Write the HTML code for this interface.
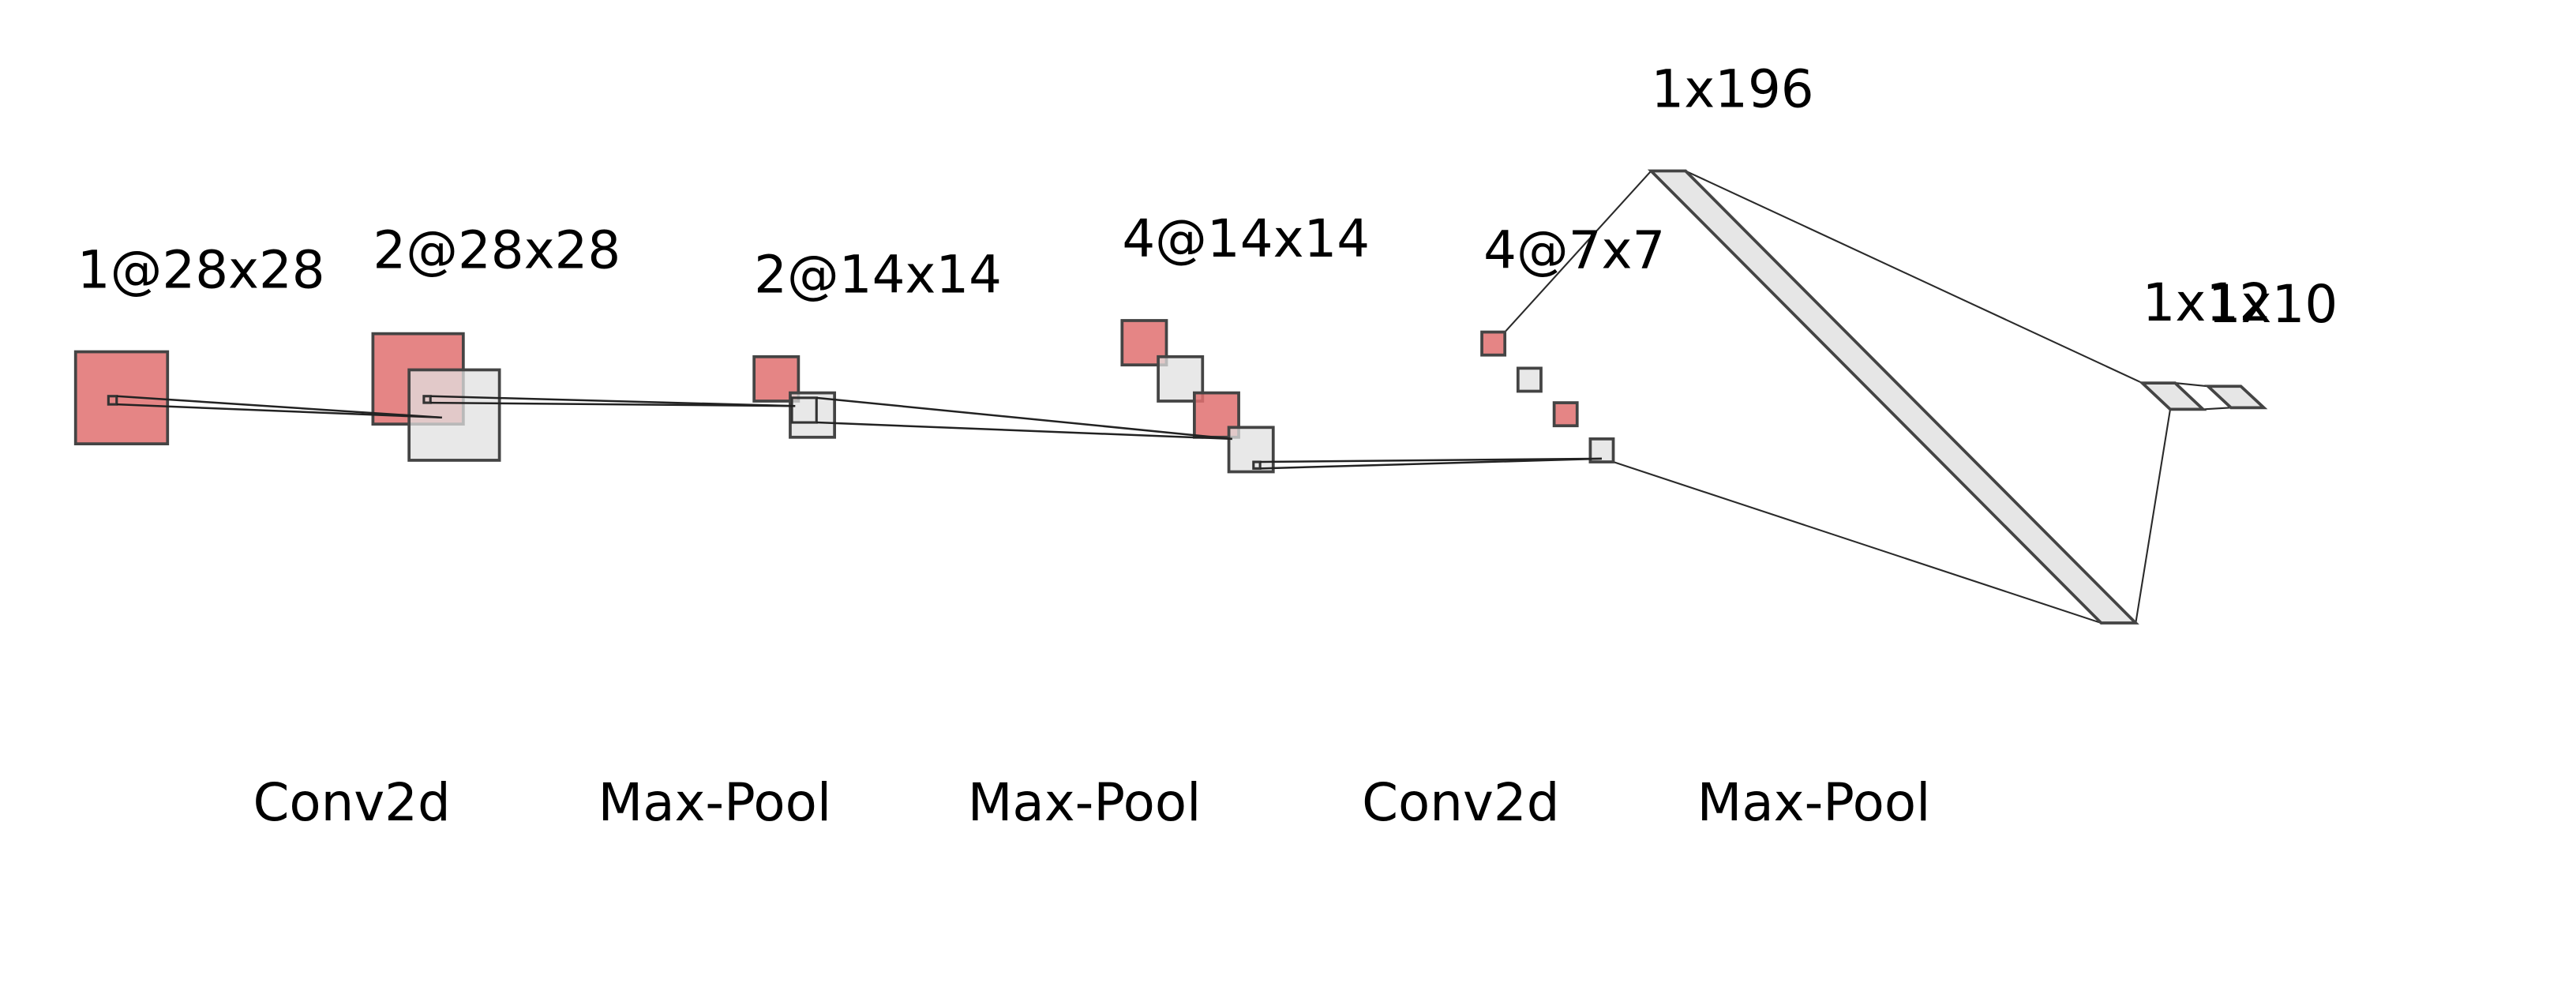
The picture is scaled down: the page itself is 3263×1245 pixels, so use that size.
<!DOCTYPE html>
<html><head><meta charset="utf-8"><style>html,body{margin:0;padding:0;background:#fff}svg{display:block}</style></head>
<body>
<svg width="3263" height="1245" viewBox="0 0 1568 598" preserveAspectRatio="none" xmlns="http://www.w3.org/2000/svg" font-family="DejaVu Sans, Liberation Sans, sans-serif">
<rect width="1568" height="598" fill="#fff"/>
<g id="conn" stroke="#2a2a2a" stroke-width="1" fill="none"></g>
<g id="maps"></g>
<g id="conn2" stroke="#222" stroke-width="1.2" fill="none"></g>
<g id="labels" font-size="31.6" fill="#000"></g>
</svg>
<script>
const NS='http://www.w3.org/2000/svg';
const mapRects=[[46,214,56,'r'],[227,203,55,'r'],[249,225,55,'g'],[459,217,27,'r'],[481,239,27,'g'],[683,195,27,'r'],[705,217,27,'g'],[727,239,27,'r'],[748,260,27,'g'],[902,202,14,'r'],[924,224,14,'g'],[946,245,14,'r'],[968,267,14,'g']];
const paras=[[1005,104,1026,1279,379,1300],[1304,233,1324,1321,249,1341],[1344,235,1364,1358,248,1378]];
const layerLabels=[['1@28x28',47,175],['2@28x28',227,163],['2@14x14',459,178],['4@14x14',683,156],['4@7x7',903,163],['1x196',1005,65],['1x12',1304,195],['1x10',1344,196]];
const opLabels=[['Conv2d',154,499],['Max-Pool',364,499],['Max-Pool',589,499],['Conv2d',829,499],['Max-Pool',1033,499]];
const thinLines=[[916,202,1005,104],[982,281,1279,379],[1026,104,1304,233],[1300,379,1321,249],[1324,233,1344,235],[1341,249,1358,248]];
const kernelLines=[[71,241,269,254],[71,246,269,254],[262,241,484,247],[262,245,484,247],[497,242,750,267],[497,257,750,267],[767,281,975,279],[767,285,975,279]];
const kernels=[[66,241,5],[258,241,4],[482,242,15],[763,281,4]];
const maps=document.getElementById('maps');
mapRects.forEach((m,i)=>{const r=document.createElementNS(NS,'rect');
r.setAttribute('x',m[0]);r.setAttribute('y',m[1]);r.setAttribute('width',m[2]);r.setAttribute('height',m[2]);
r.setAttribute('fill',m[3]=='r'?'#e07070':'#e0e0e0');r.setAttribute('fill-opacity',m[3]=='r'?'0.85':'0.75');
r.setAttribute('stroke','#444');r.setAttribute('stroke-width','1.8');


maps.appendChild(r);});
paras.forEach((p,i)=>{const e=document.createElementNS(NS,'polygon');
e.setAttribute('points',`${p[0]},${p[1]} ${p[2]},${p[1]} ${p[5]},${p[4]} ${p[3]},${p[4]}`);
e.setAttribute('fill','#e6e6e6');e.setAttribute('stroke','#444');e.setAttribute('stroke-width','1.8');


maps.appendChild(e);});
kernels.forEach((k,i)=>{const r=document.createElementNS(NS,'rect');
r.setAttribute('x',k[0]);r.setAttribute('y',k[1]);r.setAttribute('width',k[2]);r.setAttribute('height',k[2]);
r.setAttribute('fill','none');r.setAttribute('stroke','#333');r.setAttribute('stroke-width','1.5');


document.getElementById('conn2').appendChild(r);});
function addLines(arr,gid,nm){const g=document.getElementById(gid);arr.forEach((l,i)=>{const e=document.createElementNS(NS,'line');
e.setAttribute('x1',l[0]);e.setAttribute('y1',l[1]);e.setAttribute('x2',l[2]);e.setAttribute('y2',l[3]);


g.appendChild(e);});}
addLines(thinLines,'conn','connection-line');
addLines(kernelLines,'conn2','kernel-line');
const lg=document.getElementById('labels');
layerLabels.concat(opLabels).forEach((t,i)=>{const e=document.createElementNS(NS,'text');
e.setAttribute('x',t[1]);e.setAttribute('y',t[2]);e.textContent=t[0];


lg.appendChild(e);});
</script>
</body></html>
